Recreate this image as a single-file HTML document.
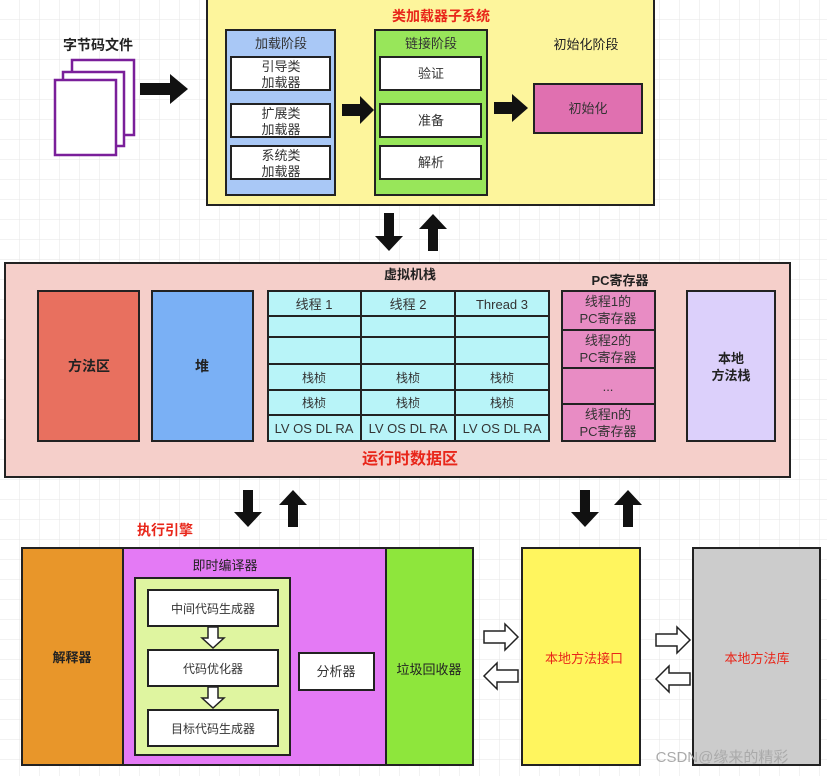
<!DOCTYPE html>
<html><head><meta charset="utf-8"><style>
html,body{margin:0;padding:0;background:#fff}
svg{display:block}
text{font-family:"Liberation Sans","Noto Sans CJK SC",sans-serif}
</style></head><body>
<svg width="827" height="776" viewBox="0 0 827 776" xmlns="http://www.w3.org/2000/svg">
<defs>
<pattern id="g" width="20" height="20" patternUnits="userSpaceOnUse">
<path d="M20 0V20M0 20H20" stroke="#e6e6e6" stroke-width="1" fill="none"/>
</pattern>
</defs>
<rect width="827" height="776" fill="#fff"/>
<rect width="827" height="776" fill="url(#g)"/>

<g stroke="#222" stroke-width="2">
<!-- top yellow -->
<rect x="207" y="-2" width="447" height="207" fill="#fdf59c"/>
<rect x="226" y="30" width="109" height="165" fill="#a9c8f6"/>
<rect x="375" y="30" width="112" height="165" fill="#98e65a"/>
<rect x="534" y="84" width="108" height="49" fill="#e070b0"/>
<g fill="#fff">
<rect x="231" y="57" width="99" height="33"/><rect x="231" y="104" width="99" height="33"/><rect x="231" y="146" width="99" height="33"/>
<rect x="380" y="57" width="101" height="33"/><rect x="380" y="104" width="101" height="33"/><rect x="380" y="146" width="101" height="33"/>
</g>
</g>
<g stroke="#7a1f9a" stroke-width="2.5" fill="#fff">
<rect x="72" y="60" width="62" height="75"/><rect x="63" y="72" width="61" height="74"/><rect x="55" y="80" width="61" height="75"/>
</g>
<g fill="#111">
<polygon points="140,83 170,83 170,74 188,89 170,104 170,95 140,95"/>
<polygon points="342,104 360,104 360,96 374,110 360,124 360,116 342,116"/>
<polygon points="494,102 512,102 512,94 528,108 512,122 512,114 494,114"/>
<polygon points="384,213 394,213 394,236 403,236 389,251 375,236 384,236"/>
<polygon points="428,251 438,251 438,229 447,229 433,214 419,229 428,229"/>
<polygon points="243,490 253,490 253,512 262,512 248,527 234,512 243,512"/>
<polygon points="288,527 298,527 298,505 307,505 293,490 279,505 288,505"/>
<polygon points="580,490 590,490 590,512 599,512 585,527 571,512 580,512"/>
<polygon points="623,527 633,527 633,505 642,505 628,490 614,505 623,505"/>
</g>

<!-- runtime -->
<g stroke="#222" stroke-width="2">
<rect x="5" y="263" width="785" height="214" fill="#f5cfca"/>
<rect x="38" y="291" width="101" height="150" fill="#e8705f"/>
<rect x="152" y="291" width="101" height="150" fill="#7ab0f5"/>
<rect x="268" y="291" width="281" height="150" fill="#b8f4f8"/>
<path d="M361 291V441M455 291V441M268 316H549M268 337H549M268 364H549M268 390H549M268 415H549" fill="none"/>
<rect x="562" y="291" width="93" height="150" fill="#e88cc4"/>
<path d="M562 330H655M562 368H655M562 404H655" fill="none"/>
<rect x="687" y="291" width="88" height="150" fill="#dcd0fb"/>
</g>

<!-- bottom -->
<g stroke="#222" stroke-width="2">
<rect x="22" y="548" width="101" height="217" fill="#e8962a"/>
<rect x="123" y="548" width="263" height="217" fill="#e47af5"/>
<rect x="135" y="578" width="155" height="177" fill="#dff5a0"/>
<rect x="148" y="590" width="130" height="36" fill="#fff"/>
<rect x="148" y="650" width="130" height="36" fill="#fff"/>
<rect x="148" y="710" width="130" height="36" fill="#fff"/>
<rect x="299" y="653" width="75" height="37" fill="#fff"/>
<rect x="386" y="548" width="87" height="217" fill="#8ee63c"/>
<rect x="522" y="548" width="118" height="217" fill="#fff55e"/>
<rect x="693" y="548" width="127" height="217" fill="#cccccc"/>
</g>
<g fill="#fff" stroke="#222" stroke-width="1.5">
<polygon points="208,627 218,627 218,638 224,638 213,648 202,638 208,638"/>
<polygon points="208,687 218,687 218,698 224,698 213,708 202,698 208,698"/>
<polygon points="484,631 505,631 505,624 518,637 505,650 505,643 484,643"/>
<polygon points="518,670 497,670 497,663 484,676 497,689 497,682 518,682"/>
<polygon points="656,634 677,634 677,627 690,640 677,653 677,646 656,646"/>
<polygon points="690,673 669,673 669,666 656,679 669,692 669,685 690,685"/>
</g>

<!-- text -->
<g text-anchor="middle" font-size="13" fill="#333">
<text x="441" y="21" fill="#e8261a" font-weight="bold" font-size="14">类加载器子系统</text>
<text x="98" y="50" font-weight="bold" font-size="14" fill="#222">字节码文件</text>
<text x="281" y="48">加载阶段</text>
<text x="431" y="48">链接阶段</text>
<text x="586" y="49" fill="#222">初始化阶段</text>
<text x="281" y="71">引导类</text><text x="281" y="87">加载器</text>
<text x="281" y="118">扩展类</text><text x="281" y="134">加载器</text>
<text x="281" y="160">系统类</text><text x="281" y="176">加载器</text>
<text x="431" y="78">验证</text><text x="431" y="125">准备</text><text x="431" y="167">解析</text>
<text x="588" y="113">初始化</text>

<text x="410" y="279" font-weight="bold" fill="#222">虚拟机栈</text>
<text x="620" y="285" font-weight="bold" fill="#222">PC寄存器</text>
<text x="89" y="371" font-weight="bold" font-size="14" fill="#222">方法区</text>
<text x="202" y="371" font-weight="bold" font-size="14" fill="#222">堆</text>
<text x="314" y="309">线程 1</text><text x="408" y="309">线程 2</text><text x="502" y="309">Thread 3</text>
<g font-size="12"><text x="314" y="382">栈桢</text><text x="408" y="382">栈桢</text><text x="502" y="382">栈桢</text>
<text x="314" y="407">栈桢</text><text x="408" y="407">栈桢</text><text x="502" y="407">栈桢</text></g>
<text x="314" y="433">LV OS DL RA</text><text x="408" y="433">LV OS DL RA</text><text x="502" y="433">LV OS DL RA</text>
<text x="608" y="306">线程1的</text><text x="608" y="323">PC寄存器</text>
<text x="608" y="345">线程2的</text><text x="608" y="362">PC寄存器</text>
<text x="608" y="391">...</text>
<text x="608" y="419">线程n的</text><text x="608" y="436">PC寄存器</text>
<text x="731" y="363" font-weight="bold" fill="#222">本地</text><text x="731" y="380" font-weight="bold" fill="#222">方法栈</text>
<text x="410" y="464" fill="#e8261a" font-weight="bold" font-size="16">运行时数据区</text>

<text x="165" y="535" fill="#e8261a" font-weight="bold" font-size="14">执行引擎</text>
<text x="72" y="662" font-weight="bold" fill="#222">解释器</text>
<text x="225" y="570" fill="#222">即时编译器</text>
<text x="213" y="613" font-size="12">中间代码生成器</text>
<text x="213" y="673" font-size="12">代码优化器</text>
<text x="213" y="733" font-size="12">目标代码生成器</text>
<text x="336" y="676">分析器</text>
<text x="429" y="674" fill="#222">垃圾回收器</text>
<text x="584" y="663" fill="#e8261a">本地方法接口</text>
<text x="757" y="663" fill="#e8261a">本地方法库</text>
<text x="722" y="762" fill="#aaa" font-size="15">CSDN@缘来的精彩</text>
</g>
</svg>
</body></html>
